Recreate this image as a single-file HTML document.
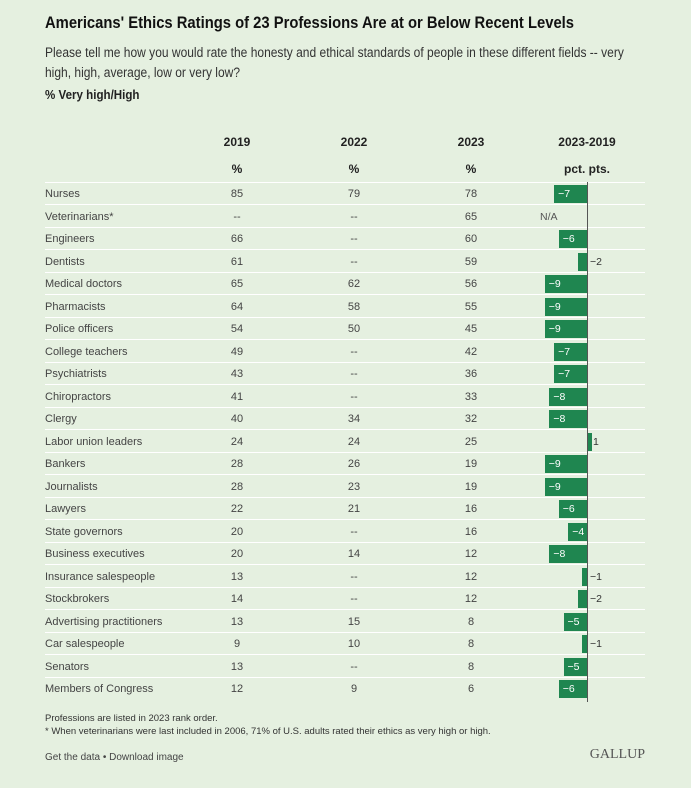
<!DOCTYPE html>
<html><head><meta charset="utf-8"><style>
*{margin:0;padding:0;box-sizing:border-box}
body{width:691px;height:788px;background:#e5f0e0;font-family:"Liberation Sans",sans-serif;color:#333;position:relative;overflow:hidden}
.a{position:absolute;white-space:nowrap}
.t{left:45px;top:13px;font-size:17px;font-weight:bold;color:#111;transform:scaleX(0.87);transform-origin:left}
.s{left:45px;font-size:13.5px;color:#333;transform:scaleX(0.89);transform-origin:left}
.h{font-weight:bold;font-size:12px;color:#222;transform:translateX(-50%)}
.r{font-size:11px;color:#444}
.c{transform:translateX(-50%)}
.line{position:absolute;left:45px;width:600px;height:1px;background:#fff}
.bar{position:absolute;height:18px;background:#1f8650;color:#fff;font-size:10.5px;line-height:18px;padding-left:4px}
.lab{font-size:10.5px;color:#333}
</style></head><body>
<div class="a t">Americans' Ethics Ratings of 23 Professions Are at or Below Recent Levels</div>
<div class="a s" style="top:45px">Please tell me how you would rate the honesty and ethical standards of people in these different fields -- very</div>
<div class="a s" style="top:65px">high, high, average, low or very low?</div>
<div class="a s" style="top:87px;font-weight:bold;font-size:13px;color:#222">% Very high/High</div>
<div class="a h" style="left:237px;top:135px">2019</div>
<div class="a h" style="left:354px;top:135px">2022</div>
<div class="a h" style="left:471px;top:135px">2023</div>
<div class="a h" style="left:587px;top:135px">2023-2019</div>
<div class="a h" style="left:237px;top:162px">%</div>
<div class="a h" style="left:354px;top:162px">%</div>
<div class="a h" style="left:471px;top:162px">%</div>
<div class="a h" style="left:587px;top:162px">pct. pts.</div>
<div id="rows"></div>
<div class="a" style="left:587px;top:182px;width:1px;height:520px;background:#555"></div>
<div class="a" style="left:45px;top:713px;font-size:9.5px;color:#333">Professions are listed in 2023 rank order.</div>
<div class="a" style="left:45px;top:726px;font-size:9.5px;color:#333">* When veterinarians were last included in 2006, 71% of U.S. adults rated their ethics as very high or high.</div>
<div class="a" style="left:45px;top:752px;font-size:10px;color:#444">Get the data • Download image</div>
<div class="a" style="right:46px;top:747px;font-family:'Liberation Serif',serif;font-size:14px;color:#555">GALLUP</div>
<script>
var d=[["Nurses","85","79","78",-7],["Veterinarians*","--","--","65",null],["Engineers","66","--","60",-6],["Dentists","61","--","59",-2],["Medical doctors","65","62","56",-9],["Pharmacists","64","58","55",-9],["Police officers","54","50","45",-9],["College teachers","49","--","42",-7],["Psychiatrists","43","--","36",-7],["Chiropractors","41","--","33",-8],["Clergy","40","34","32",-8],["Labor union leaders","24","24","25",1],["Bankers","28","26","19",-9],["Journalists","28","23","19",-9],["Lawyers","22","21","16",-6],["State governors","20","--","16",-4],["Business executives","20","14","12",-8],["Insurance salespeople","13","--","12",-1],["Stockbrokers","14","--","12",-2],["Advertising practitioners","13","15","8",-5],["Car salespeople","9","10","8",-1],["Senators","13","--","8",-5],["Members of Congress","12","9","6",-6]];
var h="",u=4.7;
d.forEach(function(r,i){var y=193+i*22.5;var ty=y-5;
h+='<div class="line" style="top:'+(y-11.5)+'px"></div>';
h+='<div class="a r" style="left:45px;top:'+ty+'px">'+r[0]+'</div>';
[237,354,471].forEach(function(x,k){h+='<div class="a r c" style="left:'+x+'px;top:'+ty+'px">'+r[k+1]+'</div>';});
var v=r[4];
if(v===null){h+='<div class="a lab" style="left:540px;top:'+ty+'px;color:#555">N/A</div>';}
else{var w=Math.abs(v)*u;var lbl=(v<0?'\u2212':'')+Math.abs(v);
if(v<0){if(w>=18)h+='<div class="bar" style="left:'+(587-w)+'px;top:'+(y-8)+'px;width:'+w+'px">'+lbl+'</div>';
else h+='<div class="bar" style="left:'+(587-w)+'px;top:'+(y-8)+'px;width:'+w+'px;padding:0"></div><div class="a lab" style="left:590px;top:'+ty+'px">'+lbl+'</div>';}
else{h+='<div class="bar" style="left:587px;top:'+(y-8)+'px;width:'+w+'px;padding:0"></div><div class="a lab" style="left:593px;top:'+ty+'px">'+lbl+'</div>';}}
});
document.getElementById('rows').innerHTML=h;
</script>
</body></html>
